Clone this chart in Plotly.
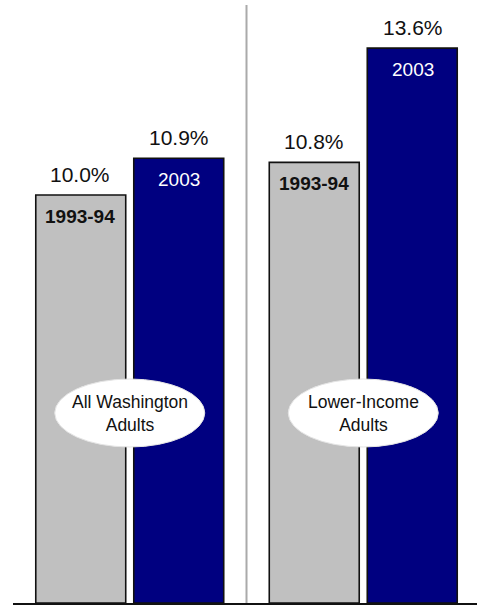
import plotly.graph_objects as go

categories = ["All Washington Adults", "Lower-Income Adults"]
group_labels = ["All Washington<br>Adults", "Lower-Income<br>Adults"]
series_names = ["1993-94", "2003"]
values_1993 = [10.0, 10.8]
values_2003 = [10.9, 13.6]
series_values = [values_1993, values_2003]
series_colors = ["#C0C0C0", "#000080"]
inner_text_colors = ["#111111", "#FFFFFF"]

FONT = "Liberation Sans Narrow, Arial Narrow, Liberation Sans, Arial, sans-serif"

W, H = 477, 605
ML, MR, MT, MB = 13, 0, 0, 2
plot_w = W - ML - MR
plot_h = H - MT - MB
unit_px = 233.5
px_per_pct = 40.8
x_range = [-0.5, -0.5 + plot_w / unit_px]
y_range = [0, plot_h / px_per_pct]

fig = go.Figure()
for name, vals, col in zip(series_names, series_values, series_colors):
    fig.add_trace(go.Bar(
        x=categories, y=vals, name=name,
        marker=dict(color=col, line=dict(color="#111111", width=1.6)),
        hoverinfo="skip",
    ))

annotations = []
offsets = [-49.5, 49.5]
for s, (name, vals) in enumerate(zip(series_names, series_values)):
    for i, v in enumerate(vals):
        annotations.append(dict(
            x=i, y=v, xref="x", yref="y", xshift=offsets[s], yshift=7,
            text=f"{v:.1f}%", showarrow=False, yanchor="bottom",
            font=dict(family=FONT, size=21, color="#111111"),
        ))
        annotations.append(dict(
            x=i, y=v, xref="x", yref="y", xshift=offsets[s], yshift=-9,
            text=f"<b>{name}</b>" if s == 0 else name, showarrow=False, yanchor="top",
            font=dict(family=FONT, size=19, color=inner_text_colors[s]),
        ))

ell_center = (H - MB - 413) / px_per_pct
shapes = []
for i, lab in enumerate(group_labels):
    shapes.append(dict(
        type="circle", xref="x", yref="y", xsizemode="pixel", ysizemode="pixel",
        xanchor=i, yanchor=ell_center, x0=-75, x1=75, y0=-34, y1=34,
        fillcolor="white", line=dict(color="#E4E4E4", width=1), layer="above",
    ))
    annotations.append(dict(
        x=i, y=ell_center, xref="x", yref="y", text=lab, showarrow=False,
        font=dict(family=FONT, size=17.5, color="#111111"),
    ))

shapes.append(dict(
    type="line", xref="x", yref="paper", x0=0.5, x1=0.5, y0=0, y1=1 - 5 / plot_h,
    line=dict(color="#AAAAAA", width=2), layer="below",
))

fig.update_layout(
    width=W, height=H,
    margin=dict(l=ML, r=MR, t=MT, b=MB),
    paper_bgcolor="white", plot_bgcolor="white",
    barmode="group", bargap=0.1606, bargroupgap=0.082,
    showlegend=False,
    annotations=annotations, shapes=shapes,
    xaxis=dict(range=x_range, showticklabels=False, ticks="", showgrid=False,
               showline=True, linecolor="#111111", linewidth=2, zeroline=False,
               fixedrange=True),
    yaxis=dict(range=y_range, showticklabels=False, ticks="", showgrid=False,
               showline=False, zeroline=False, fixedrange=True),
)

fig.write_html("out.html", config={"displayModeBar": False})
